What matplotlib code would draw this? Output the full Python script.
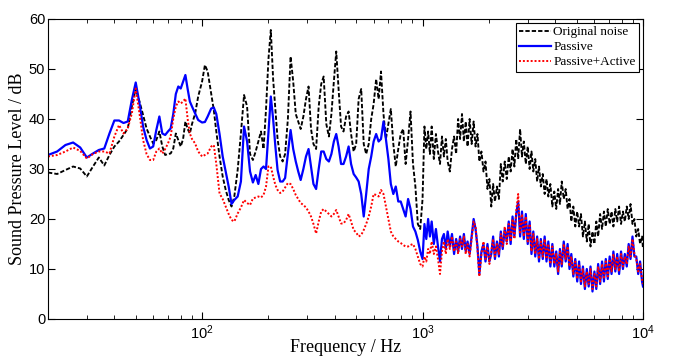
import matplotlib.pyplot as plt

plt.rcParams['font.family'] = ['Liberation Serif', 'DejaVu Serif']
plt.rcParams['mathtext.fontset'] = 'custom'
plt.rcParams['mathtext.rm'] = 'Liberation Sans'

# frequency grid [Hz], split by band for readability
freq_low = [20, 22, 24, 26, 28, 30, 32, 34, 36, 38, 40, 42, 44, 46, 48, 50,
            52, 54, 56, 58, 60, 62, 64, 66, 68, 70, 72, 74, 76, 78, 80, 82, 84, 86, 88, 90,
            93, 96, 100, 103, 106, 110, 113, 116, 120, 124, 128, 132, 136, 140, 145, 150]
freq_mid = [155, 160, 165, 170, 175, 180, 185, 190, 195, 200, 205, 210, 215, 220,
            226, 232, 238, 245, 252, 259, 266, 273, 280, 288, 296, 304, 312, 320, 329,
            338, 347, 356, 366, 376, 386, 396, 406, 416, 427, 438, 450, 462, 474, 487,
            500, 513, 527, 541, 555, 570, 585, 600, 616, 632, 648, 665, 682, 700, 718,
            737, 756, 776, 796, 817, 838, 860, 882, 905, 928, 952, 976]
freq_high = [1000, 1020, 1040, 1060, 1080, 1100, 1125, 1150, 1175, 1200,
             1225, 1250, 1275, 1300, 1330, 1360, 1390, 1420, 1450, 1480,
             1510, 1540, 1570, 1600, 1635, 1670, 1705, 1740, 1775, 1810,
             1850, 1890, 1930, 1970, 2010, 2050, 2090, 2130, 2175, 2220,
             2265, 2310, 2360, 2410, 2460, 2510, 2560, 2610, 2660, 2715,
             2770, 2825, 2880, 2940, 3000, 3060, 3120, 3180, 3245, 3310,
             3375, 3440, 3510, 3580, 3650, 3720, 3800, 3880, 3960, 4040,
             4120, 4200, 4280, 4370, 4460, 4550, 4640, 4730, 4830, 4930,
             5030, 5130, 5230, 5340, 5450, 5560, 5670, 5780, 5900, 6020,
             6140, 6260, 6390, 6520, 6650, 6780, 6920, 7060, 7200, 7340,
             7490, 7640, 7790, 7950, 8110, 8270, 8440, 8610, 8780, 8960,
             9140, 9320, 9510, 9700, 9900, 10000]

# sound pressure level [dB]
original_low = [29.3, 29.0, 29.8, 30.5, 30.1, 28.5, 30.5, 32.3, 30.7, 32.8, 34.5, 35.5, 36.8, 38.1, 42.5, 46.1,
                43.5, 40.8, 38.1, 36.5, 35.1, 35.8, 37.5, 34.5, 32.8, 33.0, 33.1, 34.1, 37.1, 35.8, 34.5, 36.0,
                39.5, 38.0, 37.1, 39.0,
                41.1, 44.5, 47.5, 50.8, 49.5, 45.0, 41.8, 37.5, 32.5, 28.5, 25.8, 23.8, 22.5, 24.5, 29.8, 37.1]
original_mid = [44.8, 42.5, 33.0, 31.8, 33.5, 35.5, 37.5, 34.0, 42.0, 52.0, 57.8, 48.0, 42.0, 36.0,
                32.5, 31.5, 33.0, 40.0, 52.5, 47.5, 41.0, 39.5, 38.0, 40.5, 44.0, 46.5, 38.0, 35.0, 34.0,
                42.5, 47.0, 48.5, 39.0, 36.5, 41.0, 47.5, 53.5, 46.0, 38.5, 37.5, 40.5, 41.5, 37.0, 33.5,
                35.0, 44.0, 46.0, 35.0, 33.0, 35.0, 40.0, 43.0, 48.0, 44.0, 49.5, 41.0, 36.0, 39.0, 42.0,
                35.0, 30.5, 34.0, 37.0, 38.0, 31.0, 36.0, 41.5, 31.0, 26.5, 19.0, 18.0]
original_high = [24.0, 38.5, 34.0, 37.5, 33.0, 38.5, 32.0, 37.0, 33.5, 31.0,
                 36.5, 32.5, 36.0, 31.5, 29.5, 34.0, 36.5, 33.0, 40.0, 36.0,
                 41.0, 35.5, 39.5, 34.5, 40.0, 35.0, 39.5, 34.5, 37.0, 31.5,
                 33.5, 29.5, 31.5, 26.0, 28.0, 22.5, 27.0, 23.5, 26.5, 24.0,
                 31.0, 27.5, 31.5, 28.0, 32.5, 29.5, 34.0, 30.5, 36.0, 32.0,
                 38.0, 32.5, 35.5, 31.0, 34.5, 30.0, 33.5, 29.5, 32.0, 27.5,
                 30.5, 26.5, 29.0, 25.0, 28.0, 24.5, 27.0, 22.5, 25.5, 22.0,
                 26.0, 23.0, 27.5, 24.0, 26.0, 22.0, 24.0, 19.5, 22.5, 18.5,
                 21.5, 18.5, 21.0, 16.5, 19.5, 15.5, 19.0, 14.5, 17.5, 15.0,
                 19.5, 16.5, 21.0, 18.0, 21.5, 18.5, 22.0, 19.0, 21.5, 18.5,
                 22.0, 19.5, 22.5, 19.0, 21.5, 19.5, 22.5, 20.0, 23.0, 19.0,
                 20.0, 16.5, 18.0, 15.0, 16.5, 14.0]

passive_low = [32.8, 33.5, 34.8, 35.3, 34.3, 32.3, 33.1, 33.8, 34.1, 37.1, 39.7, 39.7, 39.2, 39.5, 43.8, 47.3,
               43.1, 38.5, 35.8, 34.1, 34.5, 37.8, 40.5, 37.1, 36.8, 37.5, 38.1, 41.0, 45.0, 46.5, 46.1, 47.5,
               48.8, 46.0, 43.5, 42.5,
               41.1, 39.8, 39.3, 39.4, 40.5, 42.1, 42.3, 41.0, 37.0, 32.5, 29.5, 26.5, 23.0, 23.8, 24.5, 27.5]
passive_mid = [38.5, 35.5, 29.5, 27.3, 28.8, 27.0, 30.0, 30.5, 30.0, 37.5, 44.5, 40.0, 34.5, 29.8,
               27.5, 27.5, 28.2, 33.0, 37.8, 34.0, 31.5, 29.5, 27.8, 30.0, 32.5, 34.0, 30.5, 27.0, 26.0,
               30.0, 33.5, 33.5, 32.0, 31.5, 33.0, 35.5, 37.0, 34.5, 31.0, 31.0, 32.5, 34.5, 31.0, 29.0,
               28.3, 27.5, 25.0, 20.5, 25.0, 30.0, 32.5, 35.5, 37.0, 35.5, 36.0, 39.5, 36.0, 32.0, 27.0,
               25.0, 26.5, 23.5, 23.5, 22.0, 20.5, 24.0, 22.0, 18.5, 17.5, 15.8, 13.5]
passive_high = [12.0, 19.0, 16.0, 20.0, 16.5, 19.5, 15.0, 18.0, 14.5, 11.5,
                16.0, 17.0, 14.0, 17.5, 14.5, 17.0, 13.0, 16.0, 13.5, 16.5,
                14.0, 17.0, 13.5, 15.5, 13.0, 16.5, 20.0, 18.0, 14.5, 9.0,
                13.5, 15.0, 11.5, 15.0, 11.5, 13.0, 16.5, 12.0, 15.5, 12.5,
                17.5, 14.0, 18.0, 15.5, 19.5, 15.0, 20.5, 16.5, 21.0, 23.5,
                16.5, 21.5, 16.0, 21.0, 15.0, 19.5, 13.0, 17.5, 12.5, 16.5,
                11.5, 16.0, 12.0, 16.5, 11.5, 15.5, 10.5, 15.0, 10.5, 13.5,
                9.0, 14.0, 10.5, 15.5, 11.5, 15.0, 10.0, 13.0, 8.5, 12.0,
                7.5, 11.5, 7.0, 10.5, 6.0, 10.0, 6.5, 10.5, 5.5, 9.5,
                6.0, 11.0, 7.0, 11.5, 7.5, 12.0, 8.0, 12.5, 9.0, 13.5,
                9.5, 13.0, 9.0, 13.5, 10.0, 13.0, 10.5, 15.0, 12.0, 16.5,
                12.5, 12.5, 9.0, 11.5, 7.5, 6.5]

combined_low = [32.5, 32.8, 33.5, 34.3, 33.6, 32.1, 33.0, 33.5, 33.5, 33.1, 36.5, 38.8, 37.1, 38.1, 41.1, 46.1,
                41.1, 35.8, 33.0, 31.8, 31.8, 33.5, 34.1, 33.1, 34.0, 35.1, 36.5, 40.0, 42.5, 43.5, 43.1, 43.5,
                44.1, 40.0, 37.1, 36.0,
                35.1, 33.5, 32.5, 32.8, 33.1, 34.5, 34.8, 31.0, 25.1, 24.0, 22.5, 21.0, 19.8, 19.5, 21.1, 22.3]
combined_mid = [23.8, 23.2, 22.8, 24.1, 24.3, 24.5, 24.3, 24.8, 26.5, 30.5, 30.5, 28.5, 26.8, 25.8,
                25.2, 25.5, 26.3, 27.2, 27.0, 26.0, 24.8, 24.0, 23.2, 22.8, 22.3, 21.5, 20.5, 19.0, 17.1,
                19.5, 21.5, 22.0, 21.5, 21.0, 20.5, 21.0, 21.8, 20.5, 19.1, 19.1, 19.8, 21.0, 19.5, 17.8,
                17.3, 16.5, 16.8, 17.8, 19.0, 20.5, 22.5, 25.0, 24.8, 24.5, 25.8, 25.0, 22.5, 20.0, 17.5,
                16.5, 16.0, 15.5, 15.2, 14.8, 14.5, 14.5, 14.8, 15.0, 14.0, 12.5, 11.0]
combined_high = [10.5, 12.5, 11.5, 14.0, 13.0, 15.5, 13.0, 14.5, 12.0, 9.0,
                 13.5, 15.5, 13.0, 16.0, 14.0, 16.5, 13.5, 15.5, 13.0, 16.0,
                 14.5, 16.5, 13.0, 15.0, 12.5, 16.0, 19.5, 18.5, 14.0, 8.5,
                 13.0, 15.5, 12.0, 14.5, 11.0, 13.5, 16.0, 12.5, 15.0, 13.0,
                 17.0, 14.5, 18.5, 15.0, 19.0, 15.5, 20.0, 16.0, 21.5, 25.0,
                 17.0, 21.0, 16.5, 20.5, 15.5, 19.0, 13.5, 17.0, 13.0, 16.0,
                 12.0, 15.5, 12.5, 16.0, 12.0, 15.0, 11.0, 14.5, 11.0, 13.0,
                 9.5, 13.5, 11.0, 15.0, 12.0, 14.5, 10.5, 12.5, 9.0, 11.5,
                 8.0, 11.0, 7.5, 10.0, 6.5, 9.5, 7.0, 10.0, 6.0, 9.0,
                 6.5, 10.5, 7.5, 11.0, 8.0, 11.5, 8.5, 12.0, 9.5, 13.0,
                 10.0, 12.5, 9.5, 13.0, 10.5, 12.5, 11.0, 14.5, 12.5, 16.0,
                 13.0, 12.0, 9.5, 11.0, 8.0, 7.0]

freq = freq_low + freq_mid + freq_high
original = original_low + original_mid + original_high
passive = passive_low + passive_mid + passive_high
combined = combined_low + combined_mid + combined_high

fig = plt.figure(figsize=(6.75, 3.6), dpi=100)
ax = fig.add_axes([48 / 675, 41 / 360, 595 / 675, 300 / 360])

ax.plot(freq, original, color='k', ls=(0, (2.3, 1.1)), lw=1.35, label='Original noise')
ax.plot(freq, passive, color='#0000ff', lw=1.6, label='Passive')
ax.plot(freq, combined, color='#ff0000', ls=(0, (1, 1)), lw=1.4, label='Passive+Active')

ax.set_xscale('log')
ax.set_xlim(20, 1e4)
ax.set_ylim(0, 60)
ax.set_yticks(range(0, 61, 10))
ax.tick_params(which='both', direction='in', top=True, right=True)
ax.tick_params(which='major', length=5, labelsize=10.5, labelfontfamily='Liberation Sans')
ax.tick_params(axis='y', pad=2)
ax.tick_params(which='minor', length=3)
for s in ax.spines.values():
    s.set_linewidth(0.8)

ax.set_xlabel('Frequency / Hz', fontsize=13)
ax.xaxis.set_label_coords(0.5, -0.068)
ax.set_ylabel('Sound Pressure Level / dB', fontsize=13, labelpad=2)

leg = ax.legend(loc='upper right', fontsize=9.5, fancybox=False, edgecolor='k', framealpha=1,
                handlelength=2.4, handletextpad=0.2, borderpad=0.25, labelspacing=0.2,
                borderaxespad=0.3)
leg.get_frame().set_linewidth(0.8)

fig.savefig('out.png', dpi=100)
